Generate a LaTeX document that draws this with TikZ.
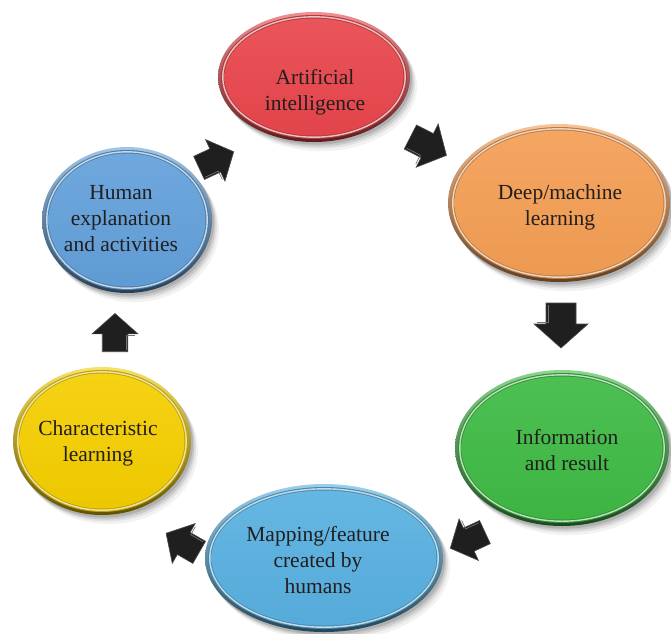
\documentclass[tikz,border=0pt]{standalone}
\usepackage{fontspec}
\setmainfont{Liberation Serif}
\definecolor{cRed}{RGB}{232,70,76}
\definecolor{cOrange}{RGB}{244,158,84}
\definecolor{cGreen}{RGB}{62,186,68}
\definecolor{cSky}{RGB}{88,176,224}
\definecolor{cYellow}{RGB}{244,206,0}
\definecolor{cBlue}{RGB}{98,160,218}
\definecolor{inkdark}{RGB}{34,30,30}

% glossy ellipse: centre, x radius, y radius, colour
\newcommand\glossydisc[4]{%
  \begin{scope}[shift={#1}]
    \foreach \o/\op in {7/0.05,5/0.07,3.5/0.10,2/0.12}
      \fill[black,opacity=\op] (\o,\o*1.3) ellipse [x radius=#2, y radius=#3];
    \shade[shading angle=20, top color=#4!60!white, bottom color=#4!40!black]
      (0,0) ellipse [x radius=#2, y radius=#3];
    \fill[#4!78!black] (0,0) ellipse [x radius=#2-3, y radius=#3-3];
    \draw[white, opacity=0.7, line width=1.4pt]
      (0,0) ellipse [x radius=#2-4.8, y radius=#3-4.8];
    \shade[top color=#4!92!white, bottom color=#4!97!black]
      (0,0) ellipse [x radius=#2-6.5, y radius=#3-6.5];
  \end{scope}}

\begin{document}
\begin{tikzpicture}[x=1pt,y=-1pt,
  bubbletext/.style={align=center, text=inkdark, inner sep=0pt,
    font=\fontsize{21.5}{26}\selectfont},
  blockarrow/.pic={
    \fill[black!88] (-22,-15) -- (-1,-15) -- (-1,-27) -- (23,0) -- (-1,27)
      -- (-1,15) -- (-22,15) -- cycle;
    \draw[white!45!black, line width=0.7pt] (-20,13) -- (-3,13) -- (-3,24);
    \draw[black!70, line width=0.6pt] (-22,-15) -- (-1,-15) -- (-1,-27) -- (23,0)
      -- (-1,27) -- (-1,15) -- (-22,15) -- cycle;
  }]
  \useasboundingbox (0,0) rectangle (671,633);

  % ellipses
  \glossydisc{(314,77)}{96}{65}{cRed}
  \glossydisc{(559,203)}{111}{79}{cOrange}
  \glossydisc{(562,448)}{107}{78}{cGreen}
  \glossydisc{(324,558)}{119}{74}{cSky}
  \glossydisc{(102,441)}{89}{74}{cYellow}
  \glossydisc{(127,220)}{85}{73}{cBlue}

  % labels
  \node[bubbletext] (ai)   at (315,92)  {Artificial\\intelligence};
  \node[bubbletext] (dml)  at (560,207) {Deep/machine\\learning};
  \node[bubbletext] (info) at (567,450) {Information\\and result};
  \node[bubbletext] (map)  at (318,560) {Mapping/feature\\created by\\humans};
  \node[bubbletext] (char) at (98,443)  {Characteristic\\learning};
  \node[bubbletext] (hum)  at (121,219) {Human\\explanation\\and activities};

  % cycle arrows
  \pic[rotate=-27, scale=0.9]  (arA) at (428,146) {blockarrow};
  \pic[rotate=-90]             (arB) at (561,325) {blockarrow};
  \pic[rotate=205, scale=0.85] (arC) at (468,540) {blockarrow};
  \pic[rotate=150, scale=0.85] (arD) at (183,543) {blockarrow};
  \pic[rotate=90, scale=0.85]  (arE) at (115,333) {blockarrow};
  \pic[rotate=25, scale=0.85]  (arF) at (216,160) {blockarrow};
\end{tikzpicture}
\end{document}
